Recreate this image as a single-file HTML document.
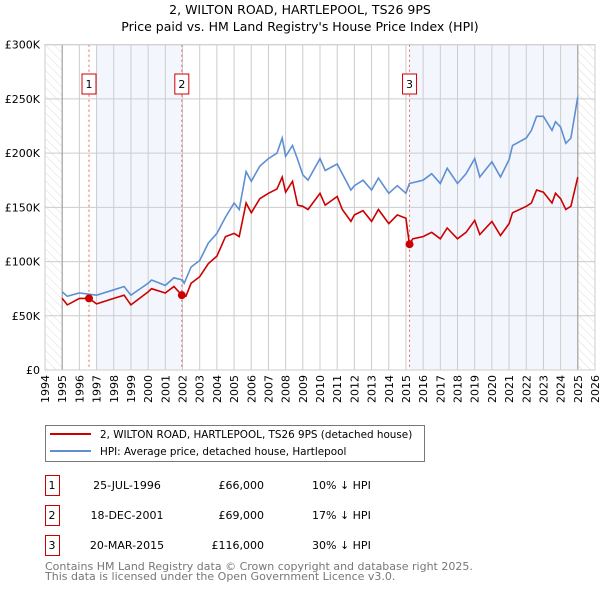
<!DOCTYPE html>
<html><head><meta charset="utf-8"><style>
body{margin:0;background:#fff;font-family:"DejaVu Sans","Liberation Sans",sans-serif;}
#wrap{position:relative;width:600px;height:590px;overflow:hidden;}
</style></head><body>
<div id="wrap">
<svg id="svg" width="600" height="590" xmlns="http://www.w3.org/2000/svg" font-family="DejaVu Sans, Liberation Sans, sans-serif">
<defs>
<pattern id="hatch" patternUnits="userSpaceOnUse" width="6" height="6" patternTransform="rotate(-45)">
<line x1="0" y1="0" x2="0" y2="6" stroke="#ddd" stroke-width="1"/></pattern>
</defs>
<text x="300" y="14" text-anchor="middle" font-size="12.5">2, WILTON ROAD, HARTLEPOOL, TS26 9PS</text>
<text x="300" y="31" text-anchor="middle" font-size="12.5">Price paid vs. HM Land Registry's House Price Index (HPI)</text>
<g id="plot"></g>
<g>
<rect x="45.5" y="425.5" width="379" height="36" fill="#fff" stroke="#777"/>
<line x1="50" y1="434" x2="91" y2="434" stroke="#cc0000" stroke-width="2"/>
<text x="100" y="438" font-size="10.4">2, WILTON ROAD, HARTLEPOOL, TS26 9PS (detached house)</text>
<line x1="50" y1="451" x2="91" y2="451" stroke="#5f8fd3" stroke-width="2"/>
<text x="100" y="455" font-size="10.4">HPI: Average price, detached house, Hartlepool</text>
</g>
<g id="table" font-size="11"></g>
<text x="45" y="570" font-size="11" fill="#777">Contains HM Land Registry data © Crown copyright and database right 2025.</text>
<text x="45" y="580" font-size="11" fill="#777">This data is licensed under the Open Government Licence v3.0.</text>
</svg>
</div>
<script>
const hpiYears=[1995,1995.3,1996,1997,1998,1998.6,1999,2000,2000.2,2001,2001.5,2002,2002.1,2002.5,2003,2003.5,2004,2004.5,2005,2005.3,2005.7,2006,2006.5,2007,2007.5,2007.8,2008,2008.4,2008.7,2009,2009.3,2010,2010.3,2011,2011.3,2011.8,2012,2012.5,2013,2013.4,2014,2014.5,2015,2015.2,2016,2016.5,2017,2017.4,2018,2018.5,2019,2019.3,2020,2020.5,2021,2021.2,2022,2022.3,2022.6,2023,2023.5,2023.7,2024,2024.3,2024.6,2025];
const hpiValues=[72,68,71,69,74,77,69,80,83,78,85,83,80,95,101,117,126,141,154,148,183,174,188,195,200,214,197,207,194,180,175,195,184,190,181,166,170,175,166,177,163,170,163,172,175,181,172,186,172,181,195,178,192,178,194,207,214,221,234,234,221,229,224,209,214,252];
const priceYears=[1995,1995.3,1996,1996.56,1997,1998,1998.6,1999,2000,2000.2,2001,2001.5,2001.96,2002.2,2002.5,2003,2003.5,2004,2004.5,2005,2005.3,2005.7,2006,2006.5,2007,2007.5,2007.8,2008,2008.4,2008.7,2009,2009.3,2010,2010.3,2011,2011.3,2011.8,2012,2012.5,2013,2013.4,2014,2014.5,2015,2015.2,2015.4,2016,2016.5,2017,2017.4,2018,2018.5,2019,2019.3,2020,2020.5,2021,2021.2,2022,2022.3,2022.6,2023,2023.5,2023.7,2024,2024.3,2024.6,2025];
const priceValues=[66,60,66,66,61,66,69,60,72,75,71,77,69,68,80,86,98,105,123,126,123,154,145,158,163,167,178,164,174,152,151,148,163,152,160,148,137,143,147,137,148,135,143,140,116,121,123,127,121,131,121,127,138,125,137,124,135,145,151,154,166,164,154,163,158,148,151,178];
const saleYears=[1996.56,2001.96,2015.21];
const salePrices=[66,69,116];
const saleLabels=["1","2","3"];
const saleDates=["25-JUL-1996","18-DEC-2001","20-MAR-2015"];
const salePriceText=["£66,000","£69,000","£116,000"];
const saleHpiText=["10% ↓ HPI","17% ↓ HPI","30% ↓ HPI"];
const yTicks=[0,50,100,150,200,250,300];
const yTickLabels=["£0","£50K","£100K","£150K","£200K","£250K","£300K"];
const xTicks=[];for(let y=1994;y<=2026;y++)xTicks.push(y);

const X0=45,X1=595,Y0=370,Y1=44.7;
const xs=y=>X0+(y-1994)/32*(X1-X0);
const ys=v=>Y0-v/300*(Y0-Y1);
const NS="http://www.w3.org/2000/svg";
const plot=document.getElementById('plot');
function mk(tag,attrs,parent){const e=document.createElementNS(NS,tag);for(const k in attrs)e.setAttribute(k,attrs[k]);(parent||plot).appendChild(e);return e;}

let r=mk('rect',{x:xs(1997),y:Y1,width:xs(saleYears[1])-xs(1997),height:Y0-Y1,fill:'#eef3fc',opacity:0.7});


r=mk('rect',{x:xs(saleYears[2]),y:Y1,width:xs(2025)-xs(saleYears[2]),height:Y0-Y1,fill:'#eef3fc',opacity:0.7});


r=mk('rect',{x:X0,y:Y1,width:xs(1995)-X0,height:Y0-Y1,fill:'url(#hatch)'});


r=mk('rect',{x:xs(2025),y:Y1,width:X1-xs(2025),height:Y0-Y1,fill:'url(#hatch)'});


xTicks.forEach(y=>{const l=mk('line',{x1:xs(y),x2:xs(y),y1:Y1,y2:Y0,stroke:'#ccc','stroke-width':1});


const t=mk('text',{x:0,y:0,'font-size':11,'text-anchor':'end',transform:`translate(${xs(y)+4},${Y0+5}) rotate(-90)`});t.textContent=y;

});
yTicks.forEach((v,i)=>{const l=mk('line',{x1:X0,x2:X1,y1:ys(v),y2:ys(v),stroke:'#ccc','stroke-width':1});


const t=mk('text',{x:40,y:ys(v)+4,'font-size':11,'text-anchor':'end'});t.textContent=yTickLabels[i];

});
let a=mk('line',{x1:xs(1995),x2:xs(1995),y1:Y1,y2:Y0,stroke:'#999','stroke-width':1});


a=mk('line',{x1:xs(2025),x2:xs(2025),y1:Y1,y2:Y0,stroke:'#999','stroke-width':1});


saleYears.forEach((y,i)=>{const l=mk('line',{x1:xs(y),x2:xs(y),y1:Y1,y2:Y0,stroke:'#f06060','stroke-width':1,'stroke-dasharray':'2,3'});


const b=mk('rect',{x:xs(y)-7,y:74,width:14,height:20,fill:'#fff',stroke:'#cc0000'});


const t=mk('text',{x:xs(y),y:88,'font-size':11,'text-anchor':'middle'});t.textContent=saleLabels[i];

});
const pts=(xa,va)=>xa.map((x,i)=>xs(x).toFixed(1)+','+ys(va[i]).toFixed(1)).join(' ');
let p=mk('polyline',{points:pts(hpiYears,hpiValues),fill:'none',stroke:'#5f8fd3','stroke-width':1.6});


p=mk('polyline',{points:pts(priceYears,priceValues),fill:'none',stroke:'#cc0000','stroke-width':1.6});


saleYears.forEach((y,i)=>{const c=mk('circle',{cx:xs(y),cy:ys(salePrices[i]),r:4,fill:'#cc0000'});

});
a=mk('rect',{x:X0,y:Y1,width:X1-X0,height:Y0-Y1,fill:'none',stroke:'#ccc'});


const tb=document.getElementById('table');
saleLabels.forEach((s,i)=>{const y0=475+i*30;
const b=mk('rect',{x:45.5,y:y0+0.5,width:14,height:20,fill:'#fff',stroke:'#cc0000'},tb);


const cells=[[s,52,'middle'],[saleDates[i],127,'middle'],[salePriceText[i],264,'end'],[saleHpiText[i],312,'start']];
cells.forEach(c=>{const t=mk('text',{x:c[1],y:y0+14,'text-anchor':c[2]},tb);t.textContent=c[0];

});});
</script>
</body></html>
